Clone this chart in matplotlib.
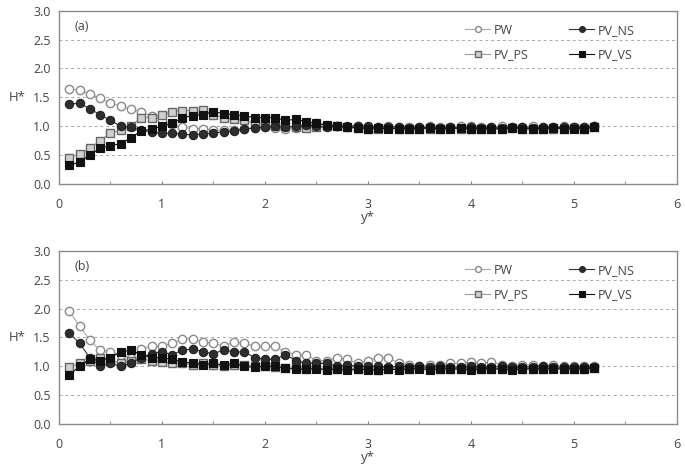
import matplotlib.pyplot as plt
import numpy as np

# y* positions (same for all series)
y_star = [0.1, 0.2, 0.3, 0.4, 0.5, 0.6, 0.7, 0.8, 0.9, 1.0,
          1.1, 1.2, 1.3, 1.4, 1.5, 1.6, 1.7, 1.8, 1.9, 2.0,
          2.1, 2.2, 2.3, 2.4, 2.5, 2.6, 2.7, 2.8, 2.9, 3.0,
          3.1, 3.2, 3.3, 3.4, 3.5, 3.6, 3.7, 3.8, 3.9, 4.0,
          4.1, 4.2, 4.3, 4.4, 4.5, 4.6, 4.7, 4.8, 4.9, 5.0,
          5.1, 5.2]

# panel (a)
a_pw = [1.65, 1.62, 1.56, 1.48, 1.40, 1.35, 1.30, 1.24, 1.18, 1.10,
        1.03, 0.98, 0.96, 0.95, 0.94, 0.93, 0.94, 0.96, 0.97, 0.98,
        0.97, 0.96, 0.97, 1.00, 1.05, 1.02, 1.00, 0.99, 1.00, 0.98,
        0.99, 1.00, 0.99, 0.98, 0.99, 1.00, 0.99, 0.98, 1.00, 1.01,
        0.99, 0.98, 1.00, 0.99, 0.98, 1.00, 0.99, 0.98, 1.00, 0.99,
        0.98, 1.00]
a_ns = [1.38, 1.40, 1.30, 1.20, 1.10, 1.00, 0.98, 0.93, 0.90, 0.88,
        0.88, 0.86, 0.85, 0.87, 0.88, 0.90, 0.92, 0.95, 0.97, 0.98,
        1.00, 0.98, 1.00, 1.02, 1.00, 0.98, 1.00, 1.01, 1.00, 1.00,
        0.98, 0.99, 0.98, 0.97, 0.98, 0.98, 0.97, 0.98, 0.97, 0.98,
        0.97, 0.98, 0.97, 0.98, 0.98, 0.97, 0.98, 0.98, 0.98, 0.98,
        0.98, 1.00]
a_ps = [0.45, 0.52, 0.62, 0.75, 0.88, 0.93, 1.00, 1.15, 1.15, 1.20,
        1.25, 1.27, 1.27, 1.28, 1.20, 1.15, 1.12, 1.10, 1.05, 1.02,
        1.00, 1.00, 0.98, 0.97, 0.98, 1.00, 1.01, 0.99, 0.97, 0.96,
        0.95, 0.97, 0.96, 0.95, 0.96, 0.95, 0.96, 0.97, 0.95, 0.96,
        0.95, 0.95, 0.96, 0.97, 0.96, 0.95, 0.96, 0.95, 0.96, 0.97,
        0.96, 0.98]
a_vs = [0.32, 0.38, 0.50, 0.62, 0.66, 0.70, 0.80, 0.92, 0.95, 1.00,
        1.05, 1.15, 1.18, 1.20, 1.25, 1.22, 1.20, 1.18, 1.15, 1.15,
        1.15, 1.10, 1.12, 1.08, 1.05, 1.02, 1.00, 0.98, 0.97, 0.96,
        0.97, 0.95, 0.96, 0.95, 0.96, 0.97, 0.95, 0.96, 0.97, 0.96,
        0.95, 0.96, 0.95, 0.97, 0.96, 0.95, 0.96, 0.97, 0.96, 0.95,
        0.96, 0.98]

# panel (b)
b_pw = [1.95, 1.70, 1.45, 1.28, 1.25, 1.20, 1.15, 1.30, 1.35, 1.35,
        1.40, 1.47, 1.47, 1.42, 1.40, 1.35, 1.42, 1.40, 1.35, 1.35,
        1.35, 1.25, 1.20, 1.20, 1.10, 1.10, 1.15, 1.12, 1.05, 1.10,
        1.15, 1.15, 1.05, 1.02, 1.00, 1.03, 1.02, 1.05, 1.05, 1.08,
        1.05, 1.08, 1.02, 1.00, 1.02, 1.03, 1.00, 1.02, 1.00, 1.01,
        1.00, 1.00]
b_ns = [1.58, 1.40, 1.15, 1.00, 1.05, 1.00, 1.05, 1.15, 1.22, 1.25,
        1.20, 1.28, 1.30, 1.25, 1.22, 1.28, 1.25, 1.25, 1.15, 1.12,
        1.12, 1.20, 1.10, 1.05, 1.05, 1.05, 1.00, 1.02, 1.00, 1.00,
        1.00, 0.98, 1.00, 0.99, 1.00, 0.98, 1.00, 0.99, 0.98, 1.00,
        0.99, 0.98, 1.00, 0.98, 0.99, 0.98, 1.00, 0.99, 0.98, 0.99,
        0.98, 0.98]
b_ps = [0.98, 1.05, 1.10, 1.15, 1.10, 1.05, 1.10, 1.12, 1.10, 1.08,
        1.05, 1.05, 1.03, 1.05, 1.02, 1.00, 1.02, 1.03, 1.00, 1.00,
        0.98, 0.97, 0.98, 0.96, 0.97, 0.95, 0.96, 0.97, 0.95, 0.96,
        0.94, 0.95, 0.96, 0.95, 0.97, 0.96, 0.95, 0.96, 0.95, 0.98,
        0.96, 0.95, 0.96, 0.97, 0.95, 0.96, 0.95, 0.97, 0.96, 0.95,
        0.96, 0.97]
b_vs = [0.85, 1.00, 1.12, 1.10, 1.15, 1.25, 1.28, 1.20, 1.15, 1.15,
        1.12, 1.08, 1.05, 1.03, 1.05, 1.02, 1.05, 1.00, 0.98, 1.00,
        1.00, 0.97, 0.95, 0.95, 0.96, 0.94, 0.95, 0.93, 0.95, 0.94,
        0.93, 0.95, 0.94, 0.95, 0.96, 0.94, 0.95, 0.96, 0.95, 0.94,
        0.95, 0.96, 0.95, 0.94, 0.95, 0.96, 0.95, 0.96, 0.95, 0.96,
        0.95, 0.97]

panels = [("(a)", a_pw, a_ns, a_ps, a_vs), ("(b)", b_pw, b_ns, b_ps, b_vs)]

plt.rcParams['font.family'] = ['Open Sans', 'DejaVu Sans']

fig = plt.figure(figsize=(6.85, 4.68), dpi=100)
rects = [[0.086, 0.607, 0.902, 0.370], [0.086, 0.094, 0.902, 0.370]]

txt = '#444444'
for rect, (tag, pw, ns, ps, vs) in zip(rects, panels):
    ax = fig.add_axes(rect)
    # draw order so legend columns read PW / PV_PS | PV_NS / PV_VS
    ax.plot(y_star, pw, '-o', color='#aaaaaa', mfc='white', mec='#8a8a8a',
            ms=6, lw=0.8, mew=1.0, label='PW', zorder=3)
    ax.plot(y_star, ps, '-s', color='#9a9a9a', mfc='#d0d0d0', mec='#666666',
            ms=5.5, lw=0.8, mew=1.0, label='PV_PS', zorder=3)
    ax.plot(y_star, ns, '-o', color='#333333', mfc='#2e2e2e', mec='#222222',
            ms=6, lw=0.8, mew=0.8, label='PV_NS', zorder=4)
    ax.plot(y_star, vs, '-s', color='#111111', mfc='#111111', mec='#111111',
            ms=5.5, lw=0.8, mew=0.8, label='PV_VS', zorder=4)

    ax.set_xlim(0, 6)
    ax.set_ylim(0, 3.0)
    ax.set_xticks(np.arange(0, 7, 1))
    ax.set_xticks(np.arange(0, 6.01, 0.5), minor=True)
    ax.set_yticks(np.arange(0, 3.01, 0.5))
    ax.set_yticklabels(['%.1f' % v for v in np.arange(0, 3.01, 0.5)])
    ax.yaxis.grid(True, linestyle=(0, (3, 3)), color='#aaaaaa', lw=0.7)
    ax.set_axisbelow(True)

    ax.tick_params(axis='x', which='both', direction='in', length=2.5,
                   color='#888888', labelsize=9, labelcolor=txt, pad=10)
    ax.tick_params(axis='y', length=0, labelsize=9, labelcolor=txt, pad=6)
    for s in ax.spines.values():
        s.set_color('#8a8a8a')
        s.set_linewidth(1.0)

    ax.set_ylabel('H*', rotation=0, fontsize=9.5, color=txt, va='center')
    ax.yaxis.set_label_coords(-0.068, 0.5)
    ax.set_xlabel('y*', fontsize=9.5, color=txt, labelpad=0)
    ax.text(0.025, 0.91, tag, transform=ax.transAxes, fontsize=9,
            color=txt, va='center')

    leg = ax.legend(ncol=2, loc='upper right', frameon=False, fontsize=9,
                    bbox_to_anchor=(0.95, 0.99), handlelength=2.0,
                    handletextpad=0.3, columnspacing=3.2, labelspacing=0.9,
                    markerscale=0.7)
    for t in leg.get_texts():
        t.set_color(txt)

fig.savefig('out.png', dpi=100)
